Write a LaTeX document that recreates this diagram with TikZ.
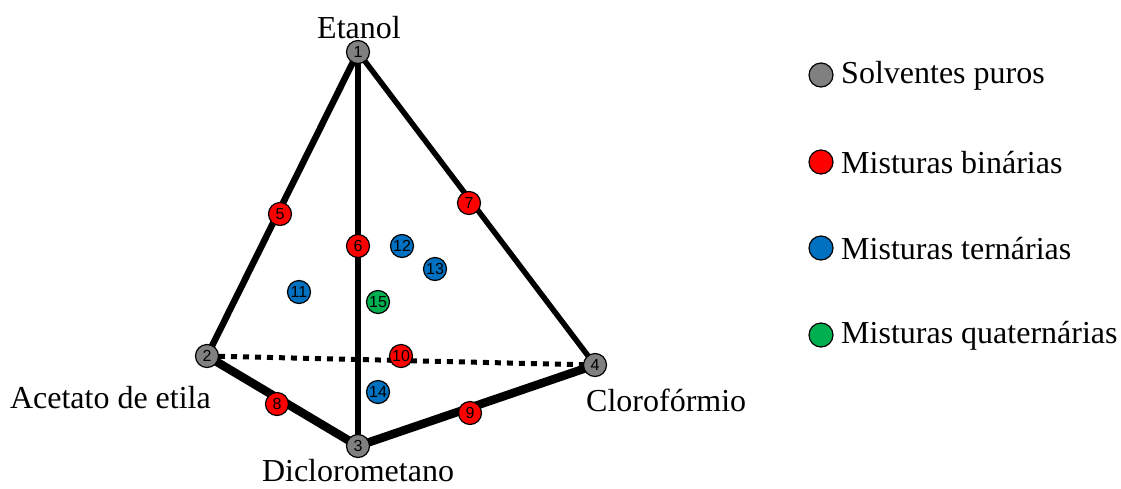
\documentclass[tikz,border=0pt]{standalone}
\usepackage{fontspec}
\setmainfont{Liberation Serif}
\newfontfamily\numfont{Liberation Sans}
\definecolor{cgray}{RGB}{128,128,128}
\definecolor{cred}{RGB}{255,0,0}
\definecolor{cblue}{RGB}{0,112,192}
\definecolor{cgreen}{RGB}{0,176,80}
\tikzset{
  pt/.style={circle, draw=black, line width=1.2pt, inner sep=0pt, minimum size=23pt, font=\numfont\fontsize{16}{16}\selectfont},
  pure/.style={pt, fill=cgray},
  bin/.style={pt, fill=cred},
  ter/.style={pt, fill=cblue},
  qua/.style={pt, fill=cgreen},
  lbl/.style={font=\fontsize{32}{32}\selectfont, inner sep=0pt},
  edge/.style={line width=#1, line cap=butt},
  legdot/.style={circle, draw=black, line width=1.2pt, inner sep=0pt, minimum size=24pt}
}
\begin{document}
\begin{tikzpicture}[x=1pt,y=-1pt]
\useasboundingbox (0,0) rectangle (1121,488);
\fill[white] (0,0) rectangle (1121,488);
% vertices
\coordinate (c1) at (358,52);
\coordinate (c2) at (207,356);
\coordinate (c3) at (358,446);
\coordinate (c4) at (595,365);
% edges
\draw[line width=5pt, dash pattern=on 6pt off 6pt] (c2) -- (c4);
\draw[edge=6.5pt] (c1) -- (c2);
\draw[edge=6pt] (c1) -- (c3);
\draw[edge=5.5pt] (c1) -- (c4);
\draw[edge=8.5pt] (c2) -- (c3);
\draw[edge=8.5pt] (c3) -- (c4);
% points
\node[pure] (n1) at (c1) {1};
\node[pure] (n2) at (c2) {2};
\node[pure] (n3) at (c3) {3};
\node[pure] (n4) at (c4) {4};
\node[bin] (n5) at (280,214) {5};
\node[bin] (n6) at (358,246) {6};
\node[bin] (n7) at (469,203) {7};
\node[bin] (n8) at (277,404) {8};
\node[bin] (n9) at (470,413) {9};
\node[bin] (n10) at (401,356) {10};
\node[ter] (n11) at (299,292) {11};
\node[ter] (n12) at (402,246) {12};
\node[ter] (n13) at (435,269) {13};
\node[ter] (n14) at (378,392) {14};
\node[qua] (n15) at (378,302) {15};
% labels
\node[lbl] (l1) at (359,28) {Etanol};
\node[lbl, anchor=east] (l2) at (211,398) {Acetato de etila};
\node[lbl] (l3) at (358,471) {Diclorometano};
\node[lbl, anchor=west] (l4) at (586,400) {Clorofórmio};
% legend
\node[legdot, fill=cgray] (g1) at (821,75) {};
\node[legdot, fill=cred] (g2) at (821,162) {};
\node[legdot, fill=cblue] (g3) at (821,248) {};
\node[legdot, fill=cgreen] (g4) at (821,335) {};
\node[lbl, anchor=west] (t1) at (841,76) {Solventes puros};
\node[lbl, anchor=west] (t2) at (841,163) {Misturas binárias};
\node[lbl, anchor=west] (t3) at (841,249) {Misturas ternárias};
\node[lbl, anchor=west] (t4) at (841,336) {Misturas quaternárias};
\end{tikzpicture}
\end{document}
